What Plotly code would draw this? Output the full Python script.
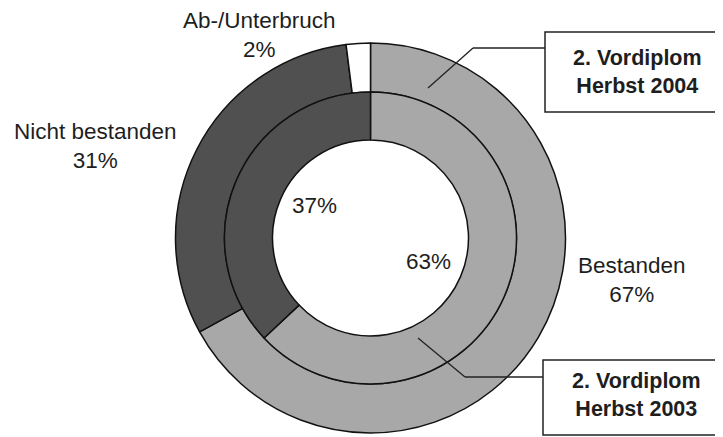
import plotly.graph_objects as go

# ---- data ----
outer_labels = ["Bestanden", "Nicht bestanden", "Ab-/Unterbruch"]
outer_values = [67, 31, 2]          # 2. Vordiplom Herbst 2004
inner_labels = ["Bestanden", "Nicht bestanden"]
inner_values = [63, 37]             # 2. Vordiplom Herbst 2003
series_names = ["2. Vordiplom<br>Herbst 2004", "2. Vordiplom<br>Herbst 2003"]

# ---- style / layout ----
OFF = 8                       # default page body margin
W, H = 723 - OFF, 437 - OFF   # figure size so that it fits the window
LIGHT, DARK, WHITE = "#a8a8a8", "#505050", "#ffffff"
colors = {"Bestanden": LIGHT, "Nicht bestanden": DARK, "Ab-/Unterbruch": WHITE}
FONT = "Liberation Sans, Arial, sans-serif"
TXT = "#1e1e1e"

cx, cy = 370.5, 238.0          # page pixel coordinates of the donut centre
R_OUT, R_MID, R_IN = 195.0, 146.0, 98.0


def px(x, y):
    """page pixel -> paper coordinates"""
    return (x - OFF) / W, 1 - (y - OFF) / H


def px_domain(r):
    x0, y0 = px(cx - r, cy + r)
    x1, y1 = px(cx + r, cy - r)
    return dict(x=[x0, x1], y=[y0, y1])


fig = go.Figure()
fig.add_trace(go.Pie(
    labels=outer_labels, values=outer_values, sort=False, direction="clockwise",
    rotation=0, hole=R_MID / R_OUT, domain=px_domain(R_OUT), textinfo="none",
    marker=dict(colors=[colors[l] for l in outer_labels], line=dict(color="#111", width=1.5)),
    showlegend=False, name="Herbst 2004"))
fig.add_trace(go.Pie(
    labels=inner_labels, values=inner_values, sort=False, direction="clockwise",
    rotation=0, hole=R_IN / R_MID, domain=px_domain(R_MID), textinfo="none",
    marker=dict(colors=[colors[l] for l in inner_labels], line=dict(color="#111", width=1.5)),
    showlegend=False, name="Herbst 2003"))

ann = []


def add_text(x, y, text, size=22.5, bold=False):
    ax, ay = px(x, y)
    t = f"<b>{text}</b>" if bold else text
    ann.append(dict(x=ax, y=ay, xref="paper", yref="paper", text=t, showarrow=False,
                    xanchor="center", yanchor="middle",
                    font=dict(family=FONT, size=size, color=TXT)))


# outer ring labels
add_text(259, 35, f"{outer_labels[2]}<br>{outer_values[2]}%")
add_text(95, 146, f"{outer_labels[1]}<br>{outer_values[1]}%")
add_text(632, 280, f"{outer_labels[0]}<br>{outer_values[0]}%")
# inner ring labels
add_text(314, 205, f"{inner_values[1]}%")
add_text(428, 261, f"{inner_values[0]}%")
# series boxes
add_text(637, 72, series_names[0], size=21.5, bold=True)
add_text(636, 395, series_names[1], size=21.5, bold=True)

shapes = []
for (x0, y0, x1, y1) in [(545, 32, 740, 112), (543, 360, 740, 435)]:
    a0, b0 = px(x0, y1)
    a1, b1 = px(x1, y0)
    shapes.append(dict(type="rect", xref="paper", yref="paper", x0=a0, y0=b0, x1=a1, y1=b1,
                       line=dict(color="#222", width=1.5), fillcolor="white"))
# leader lines
for pts in [[(545, 48), (473, 48), (428, 88)], [(543, 377), (465, 377), (418, 338)]]:
    for (p, q) in zip(pts[:-1], pts[1:]):
        a0, b0 = px(*p)
        a1, b1 = px(*q)
        shapes.append(dict(type="line", xref="paper", yref="paper", x0=a0, y0=b0, x1=a1, y1=b1,
                           line=dict(color="#222", width=1.3)))

fig.update_layout(width=W, height=H, margin=dict(l=0, r=0, t=0, b=0),
                  paper_bgcolor="white", plot_bgcolor="white",
                  annotations=ann, shapes=shapes,
                  font=dict(family=FONT, color=TXT))
fig.write_html("out.html")
